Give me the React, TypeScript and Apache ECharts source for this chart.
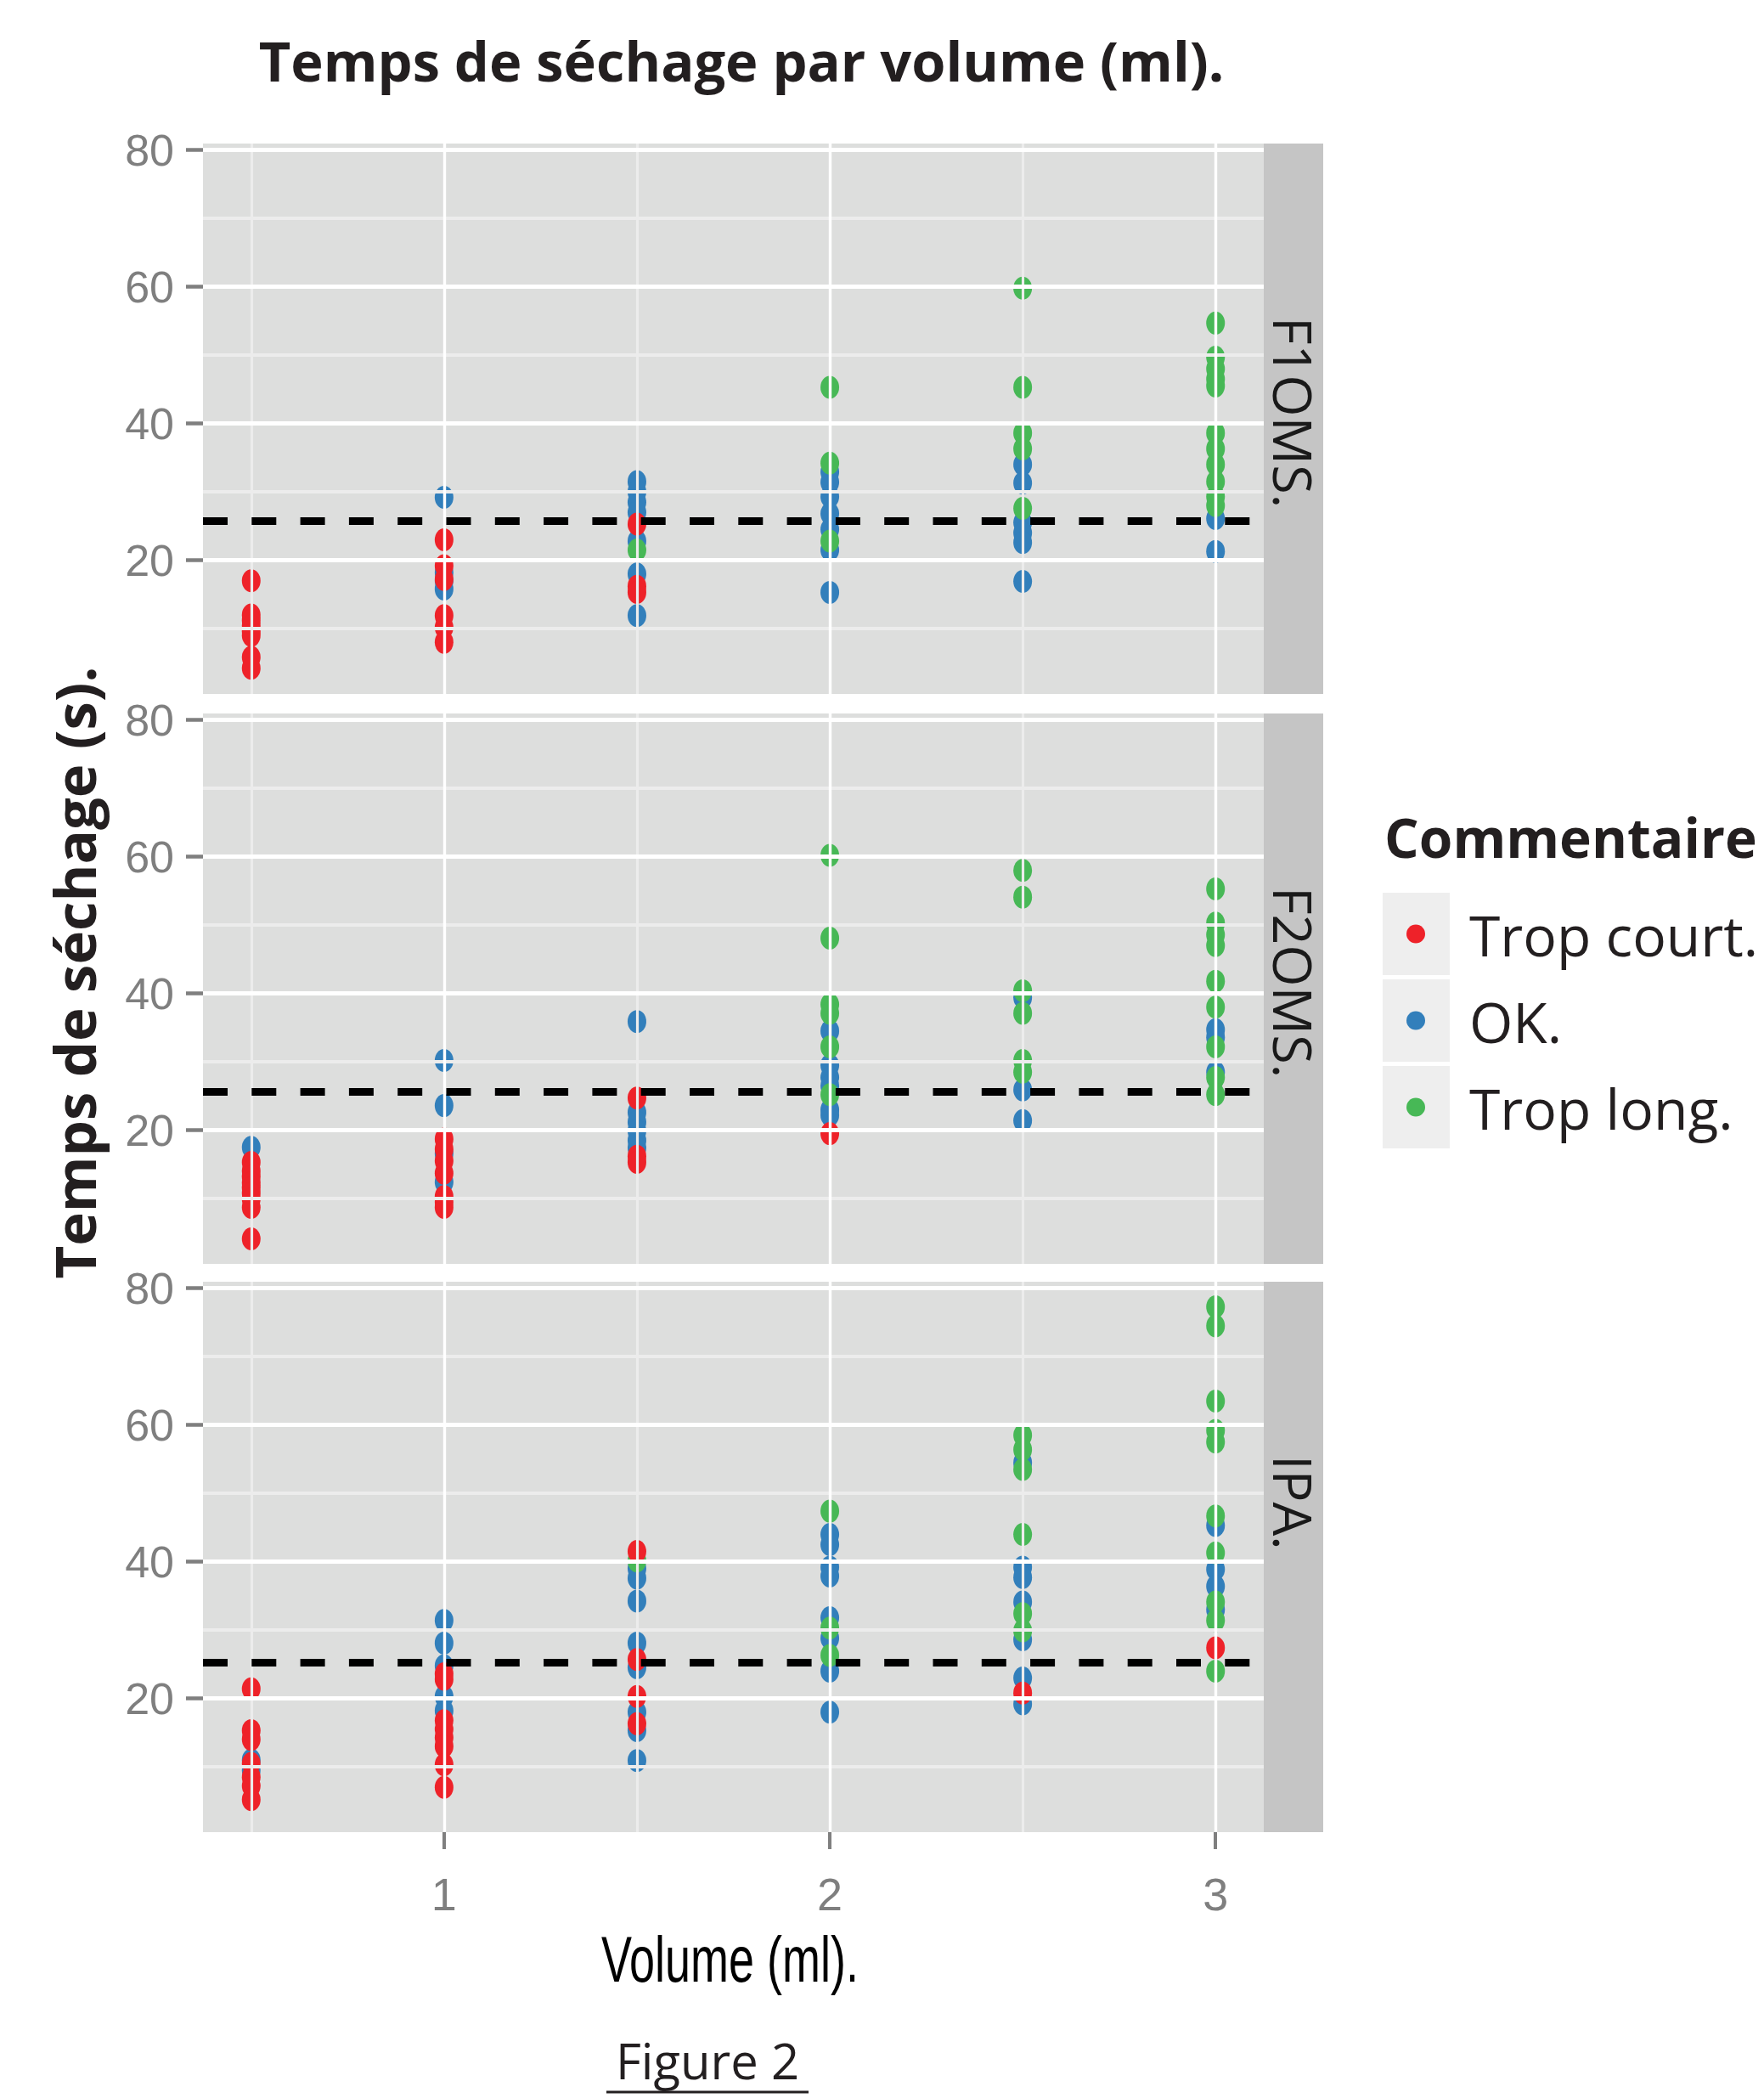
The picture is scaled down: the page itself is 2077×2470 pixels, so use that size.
import React, { useEffect, useRef } from 'react';
import * as echarts from 'echarts';

// ---------- data ----------
const panels = ['F1OMS.', 'F2OMS.', 'IPA.'];
const categories = ['Trop court.', 'OK.', 'Trop long.'];
const colors = ['#ee2229', '#327fbb', '#47b856'];
const xTicks = [1, 2, 3];
const xMinorTicks = [0.5, 1.5, 2.5];
const yTicks = [20, 40, 60, 80];
const yMinorTicks = [10, 30, 50, 70];
const thresholds = [25.8, 25.6, 25.3];

// [volume (ml), temps (s)]
const f1Court = [[0.5, 17], [0.5, 12], [0.5, 11.2], [0.5, 10.4], [0.5, 9.6], [0.5, 9], [0.5, 5.8], [0.5, 4.2],
  [1, 23], [1, 19.2], [1, 17.2], [1, 11.9], [1, 10.2], [1, 8], [1.5, 25.3], [1.5, 16.2], [1.5, 15.3]];
const f1Ok = [[1, 29.2], [1, 18.2], [1, 17], [1, 15.8],
  [1.5, 31.5], [1.5, 30], [1.5, 28.5], [1.5, 27], [1.5, 22.8], [1.5, 18], [1.5, 11.9],
  [2, 32.9], [2, 31.4], [2, 29.3], [2, 26.8], [2, 24.5], [2, 21.5], [2, 15.3],
  [2.5, 34], [2.5, 31.3], [2.5, 25.5], [2.5, 24], [2.5, 22.6], [2.5, 16.9], [3, 26.1], [3, 21.3]];
const f1Long = [[1.5, 21.5], [2, 45.3], [2, 34.2], [2, 22.8],
  [2.5, 59.8], [2.5, 45.3], [2.5, 38.6], [2.5, 36.3], [2.5, 27.6],
  [3, 54.7], [3, 49.7], [3, 48], [3, 46.5], [3, 45.5], [3, 38.6], [3, 36.3], [3, 34], [3, 31.5], [3, 29.3], [3, 28]];

const f2Court = [[0.5, 15.3], [0.5, 14], [0.5, 13.2], [0.5, 12.3], [0.5, 11.6], [0.5, 10.8], [0.5, 9.9], [0.5, 8.7], [0.5, 4.1],
  [1, 18.7], [1, 17.2], [1, 15.5], [1, 13.7], [1, 10.3], [1, 9.5], [1, 8.7], [1.5, 24.7], [1.5, 16.2], [1.5, 15.3], [2, 19.5]];
const f2Ok = [[0.5, 17.5], [1, 30.2], [1, 23.6], [1, 16.6], [1, 12.4],
  [1.5, 35.9], [1.5, 22.6], [1.5, 21.2], [1.5, 19.9], [1.5, 18.5], [1.5, 17.4],
  [2, 34.5], [2, 29.5], [2, 27.7], [2, 26.5], [2, 23], [2, 22.2],
  [2.5, 39.4], [2.5, 25.9], [2.5, 21.4], [3, 34.7], [3, 33.6], [3, 28.5]];
const f2Long = [[2, 60.2], [2, 48.1], [2, 38.4], [2, 37.1], [2, 32.2], [2, 25.2],
  [2.5, 58], [2.5, 54.1], [2.5, 40.4], [2.5, 37.1], [2.5, 30.2], [2.5, 28.5],
  [3, 55.3], [3, 50.3], [3, 48.6], [3, 47], [3, 41.8], [3, 38], [3, 32.2], [3, 27.7], [3, 25.2]];

const ipaCourt = [[0.5, 21.4], [0.5, 15.3], [0.5, 14], [0.5, 10.5], [0.5, 8.5], [0.5, 7.2], [0.5, 5.2],
  [1, 23.6], [1, 22.8], [1, 16.75], [1, 15.5], [1, 14.25], [1, 13], [1, 10.3], [1, 7],
  [1.5, 41.5], [1.5, 25.7], [1.5, 20.3], [1.5, 16.3], [2.5, 20.8], [3, 27.4]];
const ipaOk = [[0.5, 11], [0.5, 9.5], [1, 31.4], [1, 28.1], [1, 24.8], [1, 20.3], [1, 18.2],
  [1.5, 39], [1.5, 37.6], [1.5, 34.25], [1.5, 28.1], [1.5, 24.5], [1.5, 18], [1.5, 15.3], [1.5, 10.9],
  [2, 44], [2, 42.5], [2, 39.2], [2, 37.9], [2, 31.8], [2, 28.8], [2, 24], [2, 18],
  [2.5, 54.5], [2.5, 39.2], [2.5, 37.7], [2.5, 34.1], [2.5, 28.6], [2.5, 23], [2.5, 19.2],
  [3, 45.3], [3, 38.9], [3, 36.4], [3, 33]];
const ipaLong = [[1.5, 40.1], [2, 47.4], [2, 30.3], [2, 26.3],
  [2.5, 58.5], [2.5, 56.4], [2.5, 53.5], [2.5, 44], [2.5, 32.4], [2.5, 29.9],
  [3, 77.3], [3, 74.5], [3, 63.5], [3, 59.2], [3, 57.5], [3, 46.7], [3, 41.3], [3, 34.1], [3, 31.4], [3, 24]];

const panelData = [
  [f1Court, f1Ok, f1Long],
  [f2Court, f2Ok, f2Long],
  [ipaCourt, ipaOk, ipaLong],
];

// ---------- layout ----------
const W = 2077;
const H = 2470;
const gridLeft = 239;
const gridWidth = 1249;
const gridHeight = 648;
const gridTops = [169, 840, 1509];
const stripWidth = 70;
const ellipse = 'path://M0,-1A1,1,0,1,1,0,1A1,1,0,1,1,0,-1Z';
const tickFont = '"Liberation Sans", Arial, sans-serif';
const sans = '"Open Sans", "Noto Sans", sans-serif';

function buildOption() {
  const allY = panelData.flat(2).map((p: number[]) => p[1]);
  const allX = panelData.flat(2).map((p: number[]) => p[0]);
  const yLo = Math.min(...allY), yHi = Math.max(...allY);
  const xLo = Math.min(...allX), xHi = Math.max(...allX);
  const yPad = (yHi - yLo) * 0.05, xPad = (xHi - xLo) * 0.05;

  const grids = gridTops.map((t) => ({
    left: gridLeft, top: t, width: gridWidth, height: gridHeight,
    show: true, backgroundColor: '#dddedd', borderWidth: 0,
  }));

  const xAxes = gridTops.map((_, i) => {
    const last = i === gridTops.length - 1;
    return {
      type: 'value', gridIndex: i, min: xLo - xPad, max: xHi + xPad, show: last,
      axisLine: { show: false },
      splitLine: { show: false },
      axisTick: { show: last, customValues: xTicks, length: 20, lineStyle: { color: '#7f7f7f', width: 4 } },
      axisLabel: { show: last, customValues: xTicks, color: '#7f7f7f', fontFamily: tickFont, fontSize: 54, margin: 46 },
    };
  });

  const yAxes = gridTops.map((_, i) => ({
    type: 'value', gridIndex: i, min: yLo - yPad, max: yHi + yPad,
    axisLine: { show: false },
    splitLine: { show: false },
    axisTick: { show: true, customValues: yTicks, length: 20, lineStyle: { color: '#7f7f7f', width: 4.5 } },
    axisLabel: { customValues: yTicks, color: '#7f7f7f', fontFamily: tickFont, fontSize: 52, margin: 34, padding: [13, 0, 0, 0] },
  }));

  const series: any[] = [];
  gridTops.forEach((_, i) => {
    series.push({
      type: 'scatter', name: 'grid', xAxisIndex: i, yAxisIndex: i, data: [], z: 1, silent: true,
      markLine: {
        silent: true, symbol: ['none', 'none'], animation: false, label: { show: false },
        emphasis: { disabled: true },
        data: [
          ...xMinorTicks.map((v) => ({ xAxis: v, lineStyle: { color: '#ececec', width: 3.2, type: 'solid' } })),
          ...yMinorTicks.map((v) => ({ yAxis: v, lineStyle: { color: '#ececec', width: 4.2, type: 'solid' } })),
          ...xTicks.map((v) => ({ xAxis: v, lineStyle: { color: '#ffffff', width: 3.4, type: 'solid' } })),
          ...yTicks.map((v) => ({ yAxis: v, lineStyle: { color: '#ffffff', width: 4.8, type: 'solid' } })),
        ],
      },
    });
    // drawing order: OK, Trop long, Trop court
    [1, 2, 0].forEach((c) => {
      series.push({
        type: 'scatter', name: categories[c], xAxisIndex: i, yAxisIndex: i,
        data: panelData[i][c], symbol: ellipse, symbolSize: [22, 27],
        itemStyle: { color: colors[c], opacity: 1 }, z: 3,
      });
    });
    series.push({
      type: 'scatter', name: 'seuil', xAxisIndex: i, yAxisIndex: i, data: [], z: 6, silent: true,
      markLine: {
        silent: true, symbol: ['none', 'none'], animation: false, label: { show: false },
        emphasis: { disabled: true },
        data: [{ yAxis: thresholds[i], lineStyle: { color: '#000000', width: 9, type: [29, 28.3] } }],
      },
    });
  });

  const legendTop = 1051;
  const boxH = 97;
  const boxGap = 5;

  const graphic: any[] = [];
  gridTops.forEach((t, i) => {
    graphic.push({
      type: 'rect', shape: { x: gridLeft + gridWidth, y: t, width: stripWidth, height: gridHeight },
      style: { fill: '#c5c5c5' }, z: 0,
    });
    graphic.push({
      type: 'text', x: gridLeft + gridWidth + stripWidth / 2, y: t + 204, rotation: -Math.PI / 2,
      style: { text: panels[i], fontFamily: sans, fontSize: 63, fill: '#1a1a1a', align: 'left', verticalAlign: 'middle' },
      z: 1,
    });
  });
  categories.forEach((_, k) => {
    graphic.push({
      type: 'rect', shape: { x: 1628, y: legendTop + k * (boxH + boxGap), width: 79, height: boxH },
      style: { fill: '#eeeeee' }, z: 0,
    });
  });
  graphic.push({
    type: 'text', x: 873, y: 71,
    style: { text: 'Temps de séchage par volume (ml).', fontFamily: sans, fontWeight: 'bold', fontSize: 65, fill: '#231f20', align: 'center', verticalAlign: 'middle' },
  });
  graphic.push({
    type: 'text', x: 87, y: 1145, rotation: Math.PI / 2,
    style: { text: 'Temps de séchage (s).', fontFamily: sans, fontWeight: 'bold', fontSize: 67, fill: '#231f20', align: 'center', verticalAlign: 'middle' },
  });
  graphic.push({
    type: 'text', x: 1630, y: 985,
    style: { text: 'Commentaire', fontFamily: sans, fontWeight: 'bold', fontSize: 64, fill: '#231f20', align: 'left', verticalAlign: 'middle' },
  });
  // x axis title (condensed like the reference)
  graphic.push({
    type: 'text', x: gridLeft + gridWidth / 2 - 4, y: 2306, scaleX: 0.71,
    style: { text: 'Volume (ml).', fontFamily: tickFont, fontSize: 76, fill: '#000000', align: 'center', verticalAlign: 'middle' },
  });
  graphic.push({
    type: 'text', x: 833, y: 2425,
    style: { text: 'Figure 2', fontFamily: sans, fontSize: 58, fill: '#231f20', align: 'center', verticalAlign: 'middle' },
  });
  graphic.push({
    type: 'line', shape: { x1: 714, y1: 2463, x2: 952, y2: 2463 },
    style: { stroke: '#231f20', lineWidth: 3 },
  });

  return {
    animation: false,
    backgroundColor: '#ffffff',
    grid: grids,
    xAxis: xAxes,
    yAxis: yAxes,
    legend: {
      orient: 'vertical', left: 1656, top: legendTop, padding: 0,
      itemWidth: 22, itemHeight: 27, itemGap: boxGap, icon: ellipse,
      selectedMode: false,
      data: categories,
      textStyle: { fontFamily: sans, fontSize: 66, color: '#231f20', lineHeight: boxH, padding: [0, 0, 0, 47] },
    },
    series,
    graphic,
  };
}

export default function App() {
  const ref = useRef<HTMLDivElement>(null);
  useEffect(() => {
    if (!ref.current) return;
    const chart = echarts.init(ref.current, undefined, { renderer: 'svg' });
    chart.setOption(buildOption() as any);
    return () => chart.dispose();
  }, []);
  return (
    <div
      ref={ref}
      style={{ position: 'absolute', left: 0, top: 0, width: W, height: H, background: '#fff' }}
    />
  );
}
